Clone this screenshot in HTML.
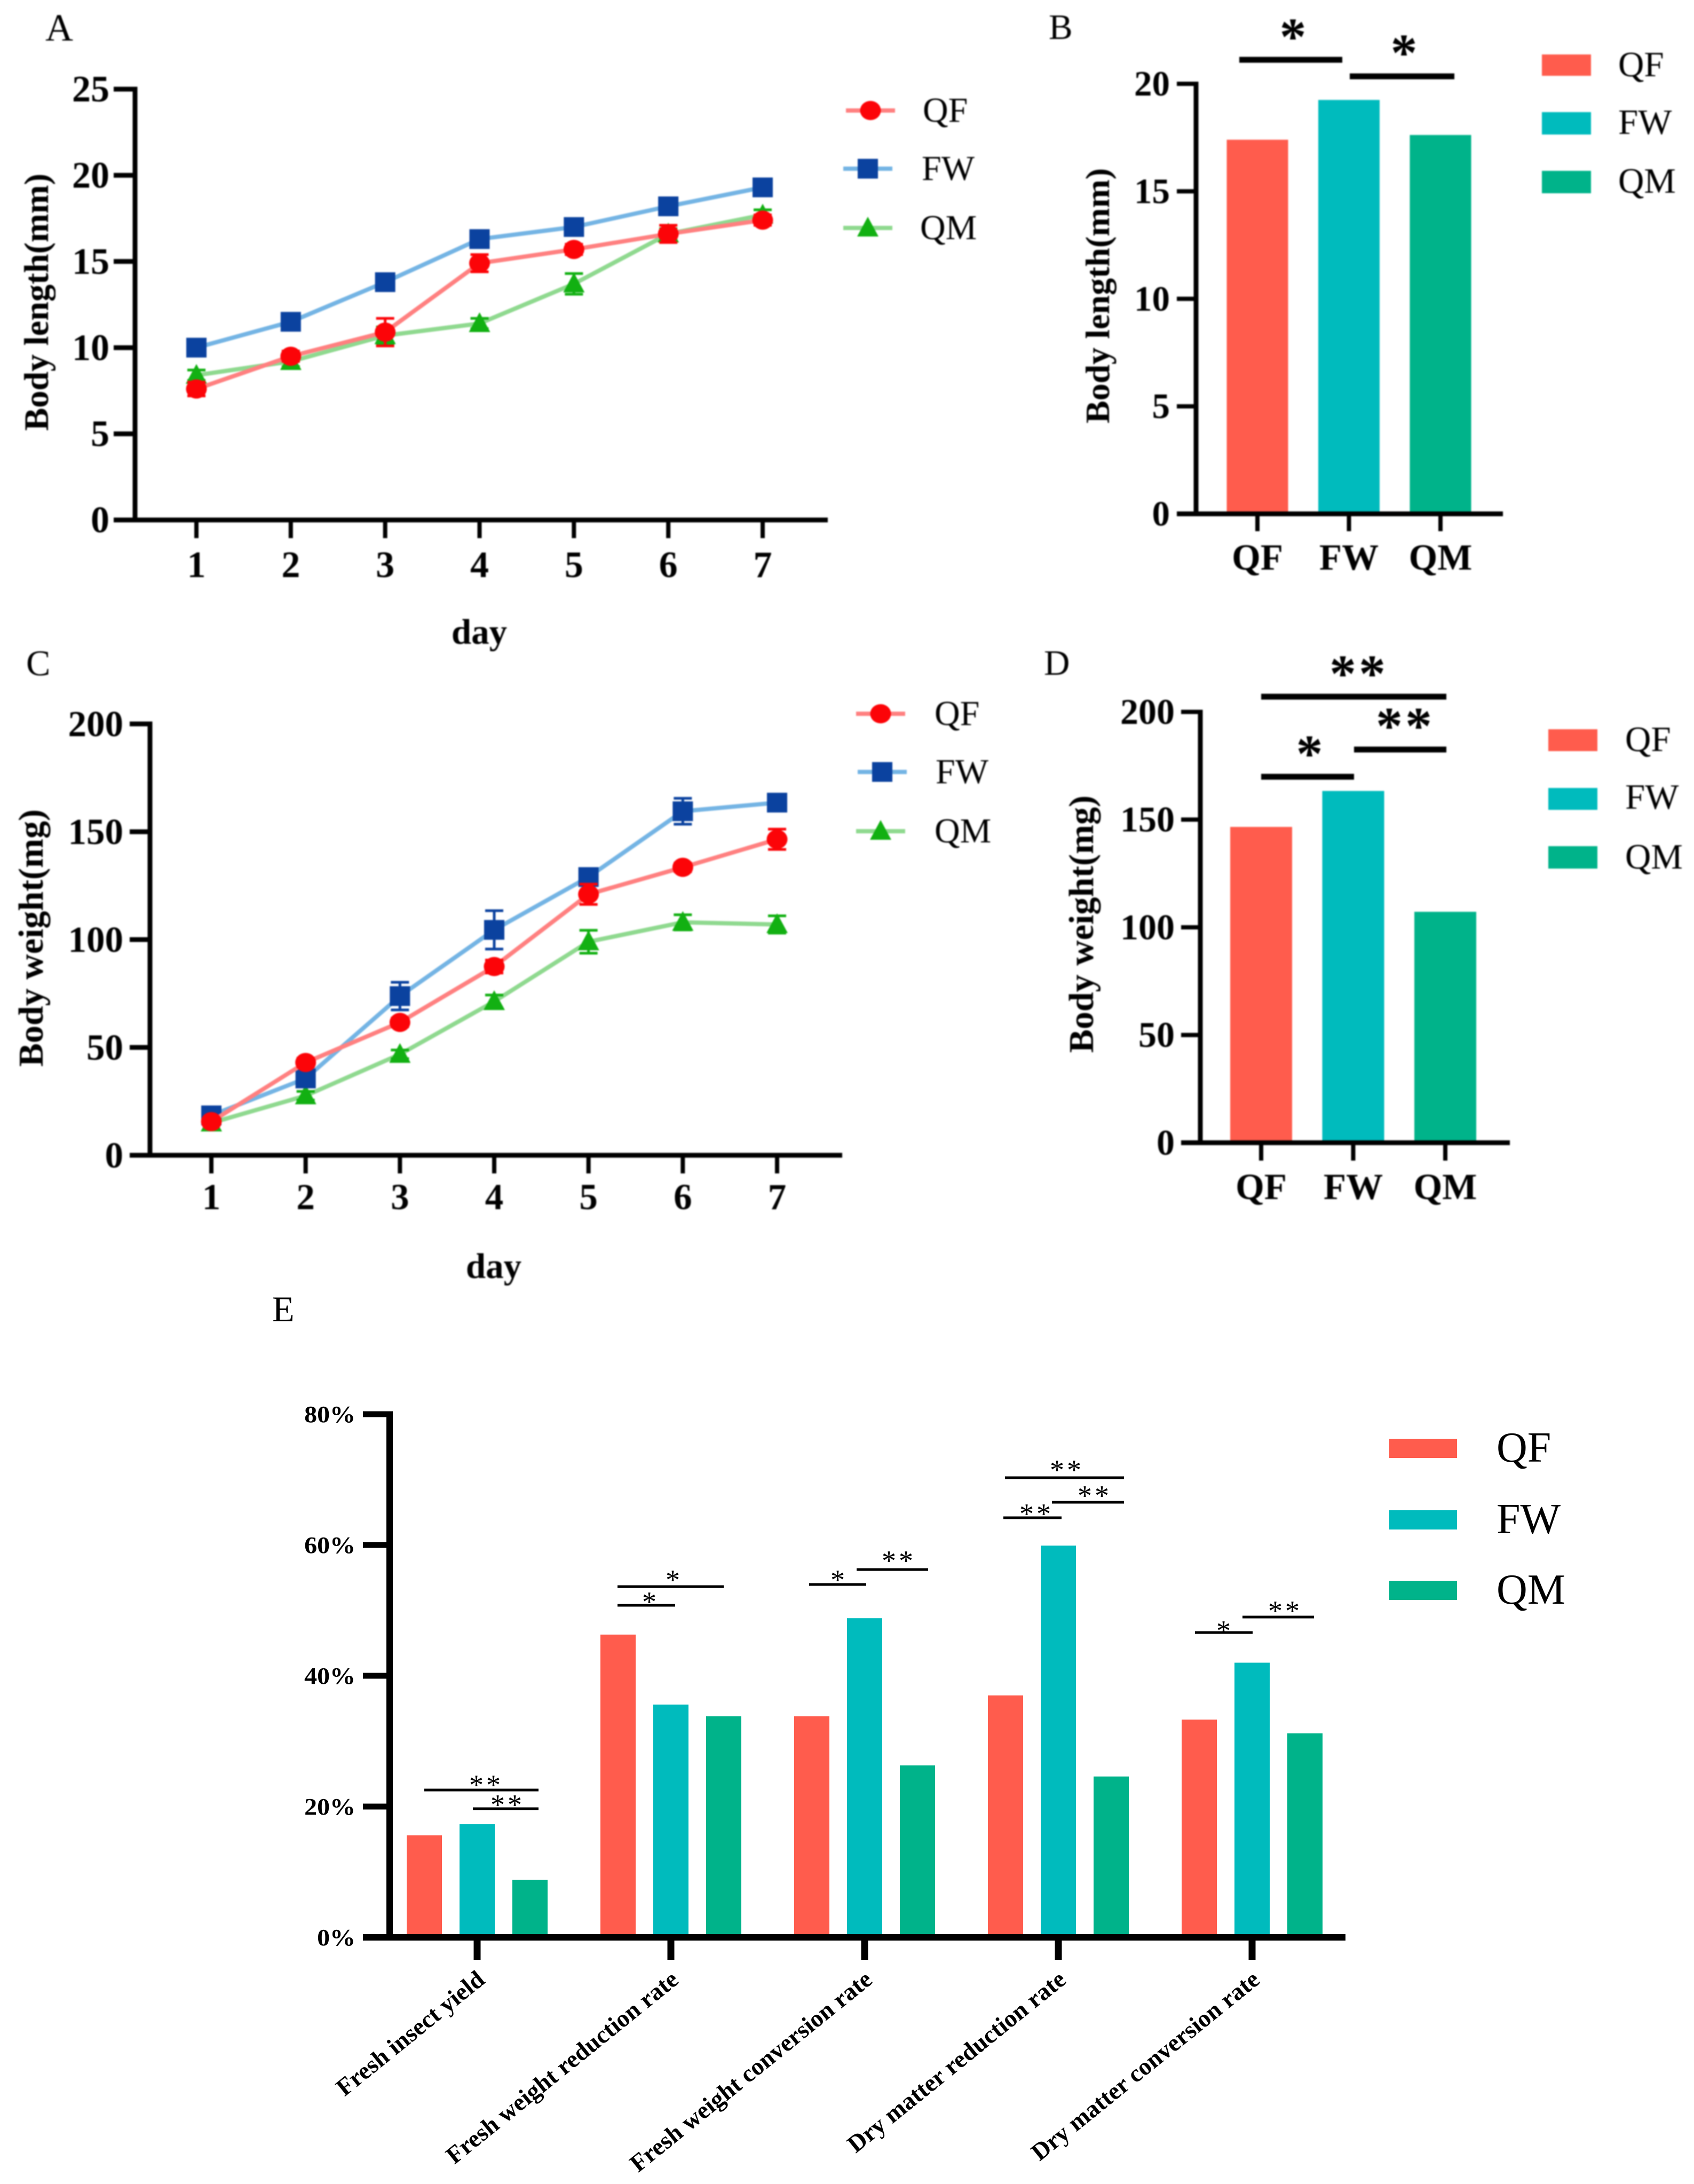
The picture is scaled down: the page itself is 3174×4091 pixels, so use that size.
<!DOCTYPE html>
<html lang="en">
<head>
<meta charset="utf-8">
<title>Body length, body weight and conversion rates</title>
<style>
html,body{margin:0;padding:0;background:#fff}
svg{display:block}
text{font-family:"Liberation Serif",serif;fill:#000}
.soft{filter:blur(1.3px)}
</style>
</head>
<body>
<svg id="figure" xmlns="http://www.w3.org/2000/svg" width="3174" height="4091" viewBox="0 0 3174 4091">
<rect x="0" y="0" width="3174" height="4091" fill="#fff"/>
<g class="soft">
<text x="85" y="76" font-size="72">A</text>
<text x="1965" y="73" font-size="67">B</text>
<text x="49" y="1265" font-size="68">C</text>
<text x="1956" y="1264" font-size="67">D</text>
</g>
<text x="510" y="2475" font-size="68">E</text>
<g class="soft" id="panelA">
<text transform="translate(90,566) rotate(-90)" text-anchor="middle" font-size="64.5" font-weight="700">Body length(mm)</text>
<text x="898" y="1206" text-anchor="middle" font-size="67" font-weight="700">day</text>
</g>
<g class="soft" id="panelB">
<text transform="translate(2078,554) rotate(-90)" text-anchor="middle" font-size="64" font-weight="700">Body length(mm)</text>
</g>
<g class="soft" id="panelC">
<text transform="translate(80,1757) rotate(-90)" text-anchor="middle" font-size="66" font-weight="700">Body weight(mg)</text>
<text x="925" y="2394" text-anchor="middle" font-size="67" font-weight="700">day</text>
</g>
<g class="soft" id="panelD">
<text transform="translate(2048,1731) rotate(-90)" text-anchor="middle" font-size="66" font-weight="700">Body weight(mg)</text>
</g>
<g id="panelE"></g>
</svg>
<script>
// ---------- chart data ----------
const days = [1, 2, 3, 4, 5, 6, 7];
const groups = ["QF", "FW", "QM"];

const lengthTicks = [0, 5, 10, 15, 20, 25];
const lengthQF = [7.6, 9.5, 10.9, 14.9, 15.7, 16.6, 17.4];
const lengthFW = [10, 11.5, 13.8, 16.3, 17, 18.2, 19.3];
const lengthQM = [8.4, 9.2, 10.7, 11.4, 13.7, 16.6, 17.7];
const lengthErrQF = [0.4, 0.3, 0.8, 0.5, 0.3, 0.5, 0.3];
const lengthErrFW = [0.3, 0.2, 0.3, 0.3, 0.3, 0.3, 0.3];
const lengthErrQM = [0.3, 0.3, 0.5, 0.3, 0.6, 0.3, 0.3];

const lengthFinalTicks = [0, 5, 10, 15, 20];
const lengthFinal = [17.4, 19.25, 17.62];

const weightTicks = [0, 50, 100, 150, 200];
const weightQF = [15.6, 43, 61.6, 87.5, 121, 133.5, 146.5];
const weightFW = [18.5, 35.6, 73.8, 104.5, 129, 159.5, 163.5];
const weightQM = [15, 27.6, 46.8, 71.3, 99, 108, 107];
const weightErrQF = [1, 2, 2, 3, 4.7, 2, 4.7];
const weightErrFW = [2.5, 3, 6.4, 8.9, 2, 6, 3.5];
const weightErrQM = [1, 2, 2, 3, 5.3, 3.5, 4];

const weightFinalTicks = [0, 50, 100, 150, 200];
const weightFinal = [146.6, 163.3, 107.2];

const rateTicks = [0, 20, 40, 60, 80];
const rateCategories = ["Fresh insect yield", "Fresh weight reduction rate", "Fresh weight conversion rate", "Dry matter reduction rate", "Dry matter conversion rate"];
const rateQF = [15.6, 46.3, 33.8, 37, 33.3];
const rateFW = [17.3, 35.6, 48.8, 59.9, 42];
const rateQM = [8.8, 33.8, 26.3, 24.6, 31.2];

// ---------- colours ----------
const BAR_COLORS = ["#ff5c4d", "#00bbbd", "#00b38a"];
const LINE_STYLE = {
  QF: {line: "#ff8080", mark: "#fc0408", shape: "circle"},
  FW: {line: "#74b4e4", mark: "#0b429f", shape: "square"},
  QM: {line: "#8fd98f", mark: "#12b012", shape: "triangle"}
};

// ---------- helpers ----------
const NS = "http://www.w3.org/2000/svg";
function mk(parent, tag, attrs) {
  const el = document.createElementNS(NS, tag);
  for (const k in attrs) el.setAttribute(k, attrs[k]);
  parent.appendChild(el);
  return el;
}
function label(parent, s, x, y, size, weight, anchor) {
  const el = mk(parent, "text", {x: x, y: y, "font-size": size, "font-weight": weight, "text-anchor": anchor});
  el.textContent = s;
  return el;
}
function scale(d0, d1, r0, r1) {
  return v => r0 + (v - d0) * (r1 - r0) / (d1 - d0);
}
function hline(parent, x1, x2, y, w) {
  return mk(parent, "line", {x1: x1, x2: x2, y1: y, y2: y, stroke: "#000", "stroke-width": w});
}
function vline(parent, x, y1, y2, w, color) {
  return mk(parent, "line", {x1: x, x2: x, y1: y1, y2: y2, stroke: color || "#000", "stroke-width": w});
}
function marker(parent, shape, x, y, color) {
  if (shape === "circle") return mk(parent, "ellipse", {cx: x, cy: y, rx: 19.5, ry: 18, fill: color});
  if (shape === "square") return mk(parent, "rect", {x: x - 19, y: y - 18.5, width: 38, height: 37, fill: color});
  return mk(parent, "polygon", {points: (x - 20) + "," + (y + 16) + " " + (x + 20) + "," + (y + 16) + " " + x + "," + (y - 21), fill: color});
}
function yLeftAxis(g, c, y, ticks, fmt) {
  ticks.forEach(t => {
    const tick = hline(g, c.tickLeft, c.axisX, y(t), c.tickW);
    
    
    const tl = label(g, fmt ? fmt(t) : String(t), c.yLabelRight, y(t) + c.numSize * 0.33, c.numSize, 700, "end");
    
    
  });
  const ax = vline(g, c.axisX, y(ticks[ticks.length - 1]) - c.tickW / 2, c.yBase + c.axisW / 2, c.axisW);
  
  
  const bx = hline(g, c.tickLeft, c.axisRight, c.yBase, c.axisW);
  
  
}

// ---------- line panels ----------
function drawLinePanel(g, c, series) {
  const x = scale(days[0], days[days.length - 1], c.x0, c.x1);
  const y = scale(0, c.yMax, c.yBase, c.yTop);
  [series[2], series[1], series[0]].forEach(s => {
    const st = LINE_STYLE[s.name];
    const pts = s.values.map((v, i) => x(days[i]) + "," + y(v)).join(" ");
    const path = mk(g, "polyline", {points: pts, fill: "none", stroke: st.line, "stroke-width": 8});
    
    
    s.values.forEach((v, i) => {
      const top = y(v + s.errs[i]), bot = y(v - s.errs[i]), cx = x(days[i]);
      const eb = mk(g, "path", {d: "M" + (cx - 17) + " " + top + "H" + (cx + 17) + "M" + cx + " " + top + "V" + bot + "M" + (cx - 17) + " " + bot + "H" + (cx + 17), stroke: st.mark, "stroke-width": 5, fill: "none"});
      
      
      const m = marker(g, st.shape, cx, y(v), st.mark);
      
      
    });
  });
  yLeftAxis(g, c, y, c.ticks);
  days.forEach(d => {
    const t = vline(g, x(d), c.yBase, c.tickBottom, 8);
    
    
    const tl = label(g, String(d), x(d), c.xLabelY + c.numSize * 0.33, c.numSize, 700, "middle");
    
    
  });
  c.legend.forEach((lg, i) => {
    const name = groups[i], st = LINE_STYLE[name];
    const ln = hline(g, lg.mx - 46, lg.mx + 46, lg.y, 8);
    ln.setAttribute('stroke', st.line);
    
    
    const m = marker(g, st.shape, lg.mx, lg.y, st.mark);
    
    
    const tx = label(g, name, lg.tx, lg.y + 21, 66, 400, "start");
    
    
  });
}

// ---------- simple bar panels ----------
function stars(g, s, x, cy, size, weight, spacing, off) {
  const el = label(g, s, x, cy + size * off, size, weight, "middle");
  el.setAttribute('letter-spacing', spacing);
  return el;
}
function drawBarPanel(g, c, values) {
  const y = scale(0, c.yMax, c.yBase, c.yTop);
  values.forEach((v, i) => {
    const cx = c.cx0 + i * c.step;
    const b = mk(g, "rect", {x: cx - c.barW / 2, y: y(v), width: c.barW, height: c.yBase - y(v), fill: BAR_COLORS[i]});
    
    
    const t = vline(g, cx, c.yBase, c.tickBottom, 8);
    
    
    const tl = label(g, groups[i], cx, c.xLabelY + 23, 69, 700, "middle");
    
    
  });
  yLeftAxis(g, c, y, c.ticks);
  c.legend.forEach((lg, i) => {
    const r = mk(g, "rect", {x: c.legendX, y: lg.y, width: 92, height: lg.h, fill: BAR_COLORS[i]});
    
    
    const tx = label(g, groups[i], c.legendTextX, lg.ty + 22, 67, 400, "start");
    
    
  });
  c.sig.forEach(s => {
    const ln = hline(g, s.x1, s.x2, s.y, 11);
    
    
    const st = stars(g, s.mark, s.sx, s.sy, 100, 700, 5, 0.48);
    
    
  });
}

// ---------- panel E ----------
function drawGroupedPanel(g) {
  const c = {yBase: 3629, yTop: 2649, axisX: 730, axisRight: 2521, tickLeft: 680, tickW: 11, axisW: 12, cx0: 894, step: 363, offset: 99, barW: 66};
  const y = scale(0, 80, c.yBase, c.yTop);
  const seriesVals = [rateQF, rateFW, rateQM];
  rateCategories.forEach((cat, i) => {
    const cx = c.cx0 + i * c.step;
    seriesVals.forEach((vals, j) => {
      const bx = cx + (j - 1) * c.offset - c.barW / 2;
      const b = mk(g, "rect", {x: bx, y: y(vals[i]), width: c.barW, height: c.yBase - y(vals[i]), fill: BAR_COLORS[j]});
      
      
    });
    const t = vline(g, cx, c.yBase, 3671, 13);
    
    
    const tl = mk(g, "text", {transform: "translate(" + (cx + 17) + ",3713) rotate(-39)", "font-size": 46, "font-weight": 700, "text-anchor": "end"});
    tl.textContent = cat;
    
    
  });
  rateTicks.forEach(v => {
    const t = hline(g, c.tickLeft, c.axisX, y(v), c.tickW);
    
    
    const tl = mk(g, "text", {transform: "translate(666," + (y(v) + 15) + ") scale(1.09,1)", "font-size": 44, "font-weight": 700, "text-anchor": "end"});
    tl.textContent = v + "%";
    
    
  });
  const ax = vline(g, c.axisX, y(80) - c.tickW / 2, c.yBase + c.axisW / 2, c.axisW);
  
  
  const bx = hline(g, c.tickLeft, c.axisRight, c.yBase, c.axisW);
  
  
  const sig = [
    {x1: 795, x2: 1009, y: 3353, mark: "**", sx: 911, sy: 3336},
    {x1: 886, x2: 1009, y: 3388, mark: "**", sx: 951, sy: 3373},
    {x1: 1157, x2: 1356, y: 2972, mark: "*", sx: 1263, sy: 2952},
    {x1: 1157, x2: 1265, y: 3007, mark: "*", sx: 1219, sy: 2993},
    {x1: 1516, x2: 1623, y: 2968, mark: "*", sx: 1572, sy: 2952},
    {x1: 1605, x2: 1739, y: 2940, mark: "**", sx: 1684, sy: 2916},
    {x1: 1883, x2: 2106, y: 2768, mark: "**", sx: 1999, sy: 2746},
    {x1: 1971, x2: 2106, y: 2814, mark: "**", sx: 2051, sy: 2794},
    {x1: 1880, x2: 1989, y: 2843, mark: "**", sx: 1942, sy: 2828},
    {x1: 2239, x2: 2347, y: 3058, mark: "*", sx: 2295, sy: 3047},
    {x1: 2328, x2: 2462, y: 3029, mark: "**", sx: 2408, sy: 3010}
  ];
  sig.forEach(s => {
    const ln = hline(g, s.x1, s.x2, s.y, 5);
    
    
    const st = stars(g, s.mark, s.sx, s.sy, 54, 400, 5, 0.47);
    
    
  });
  const lgY = [2695, 2829, 2961];
  const lgT = [2713, 2847, 2979];
  groups.forEach((name, i) => {
    const r = mk(g, "rect", {x: 2603, y: lgY[i], width: 127, height: 36, fill: BAR_COLORS[i]});
    
    
    const tx = label(g, name, 2804, lgT[i] + 25, 80, 400, "start");
    
    
  });
}

// ---------- build ----------
drawLinePanel(document.getElementById("panelA"), {
  x0: 368, x1: 1429, yBase: 974, yTop: 167, yMax: 25, axisX: 253, axisRight: 1551, tickLeft: 213, tickW: 9, axisW: 9,
  tickBottom: 1008, xLabelY: 1058, yLabelRight: 205, numSize: 70, ticks: lengthTicks,
  legend: [{mx: 1631, y: 207, tx: 1729}, {mx: 1626, y: 316, tx: 1727}, {mx: 1626, y: 427, tx: 1724}]
}, [
  {name: "QF", values: lengthQF, errs: lengthErrQF},
  {name: "FW", values: lengthFW, errs: lengthErrFW},
  {name: "QM", values: lengthQM, errs: lengthErrQM}
]);

drawLinePanel(document.getElementById("panelC"), {
  x0: 396, x1: 1456, yBase: 2164, yTop: 1356, yMax: 200, axisX: 281, axisRight: 1578, tickLeft: 243, tickW: 9, axisW: 9,
  tickBottom: 2198, xLabelY: 2242, yLabelRight: 231, numSize: 69, ticks: weightTicks,
  legend: [{mx: 1650, y: 1337, tx: 1751}, {mx: 1653, y: 1446, tx: 1753}, {mx: 1650, y: 1557, tx: 1751}]
}, [
  {name: "QF", values: weightQF, errs: weightErrQF},
  {name: "FW", values: weightFW, errs: weightErrFW},
  {name: "QM", values: weightQM, errs: weightErrQM}
]);

drawBarPanel(document.getElementById("panelB"), {
  yBase: 962.5, yTop: 157, yMax: 20, axisX: 2241, axisRight: 2816, tickLeft: 2205, tickW: 8, axisW: 9,
  tickBottom: 995, xLabelY: 1044, yLabelRight: 2192, numSize: 67, ticks: lengthFinalTicks,
  cx0: 2356, step: 171.5, barW: 115, legendX: 2889, legendTextX: 3032,
  legend: [{y: 102, h: 40, ty: 121}, {y: 210, h: 42, ty: 229}, {y: 320, h: 42, ty: 339}],
  sig: [
    {x1: 2322, x2: 2515, y: 112, mark: "*", sx: 2425, sy: 54},
    {x1: 2529, x2: 2725, y: 143, mark: "*", sx: 2633, sy: 84}
  ]
}, lengthFinal);

drawBarPanel(document.getElementById("panelD"), {
  yBase: 2140.5, yTop: 1333.5, yMax: 200, axisX: 2249, axisRight: 2829, tickLeft: 2213, tickW: 8, axisW: 9,
  tickBottom: 2174, xLabelY: 2223, yLabelRight: 2201, numSize: 68, ticks: weightFinalTicks,
  cx0: 2363, step: 172.5, barW: 116, legendX: 2901, legendTextX: 3045,
  legend: [{y: 1366, h: 41, ty: 1385}, {y: 1476, h: 41, ty: 1493}, {y: 1585, h: 42, ty: 1605}],
  sig: [
    {x1: 2363, x2: 2710, y: 1305, mark: "**", sx: 2546, sy: 1247},
    {x1: 2537, x2: 2710, y: 1404, mark: "**", sx: 2633, sy: 1345},
    {x1: 2363, x2: 2537, y: 1455, mark: "*", sx: 2456, sy: 1397}
  ]
}, weightFinal);

drawGroupedPanel(document.getElementById("panelE"));
</script>
</body>
</html>
